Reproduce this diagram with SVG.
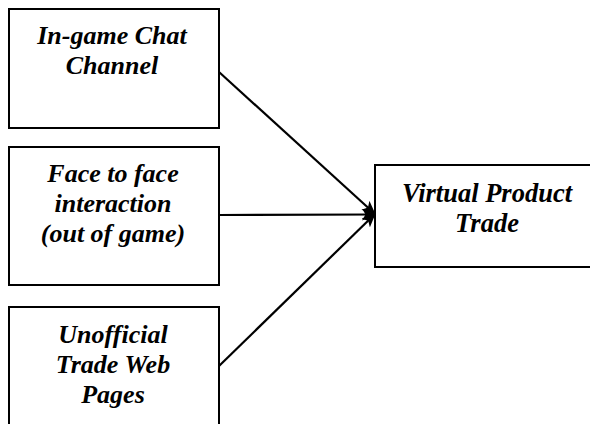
<svg xmlns="http://www.w3.org/2000/svg" width="590" height="424" viewBox="0 0 590 424">
  <style>
    .box { fill: #ffffff; stroke: #000000; stroke-width: 2; }
    .lbl { font-family: 'Liberation Serif', 'DejaVu Serif', serif; font-weight: 700; font-style: italic; font-size: 26px; fill: #000000; text-anchor: middle; }
    .big { font-size: 26.5px; }
    .conn { stroke: #000000; stroke-width: 2.2; fill: none; marker-end: url(#head); }
  </style>
  <defs>
    <marker id="head" viewBox="0 0 14 12" refX="13" refY="6" markerWidth="14" markerHeight="12" markerUnits="userSpaceOnUse" orient="auto">
      <path d="M0,0 L14,6 L0,12 L3.5,6 Z" fill="#000000"/>
    </marker>
  </defs>
  <rect width="590" height="424" fill="#ffffff"/>

  <g id="connectors">
    <line class="conn" x1="219" y1="72" x2="375" y2="214"/>
    <line class="conn" x1="219" y1="215" x2="375" y2="214.5"/>
    <line class="conn" x1="219" y1="366" x2="375" y2="214"/>
  </g>

  <g id="chat">
    <rect class="box" x="9" y="9" width="210" height="119"/>
    <text class="lbl" x="112" y="44">In-game Chat</text>
    <text class="lbl" x="112" y="73.5">Channel</text>
  </g>

  <g id="face">
    <rect class="box" x="9" y="147" width="210" height="138"/>
    <text class="lbl" x="113" y="182">Face to face</text>
    <text class="lbl" x="113" y="212">interaction</text>
    <text class="lbl" x="113" y="242">(out of game)</text>
  </g>

  <g id="web">
    <rect class="box" x="9" y="307" width="210" height="130"/>
    <text class="lbl" x="113" y="343">Unofficial</text>
    <text class="lbl" x="113" y="373">Trade Web</text>
    <text class="lbl" x="113" y="403">Pages</text>
  </g>

  <g id="trade">
    <rect class="box" x="375" y="165" width="225" height="102"/>
    <text class="lbl big" x="487" y="201.5">Virtual Product</text>
    <text class="lbl big" x="487" y="231.5">Trade</text>
  </g>
</svg>
